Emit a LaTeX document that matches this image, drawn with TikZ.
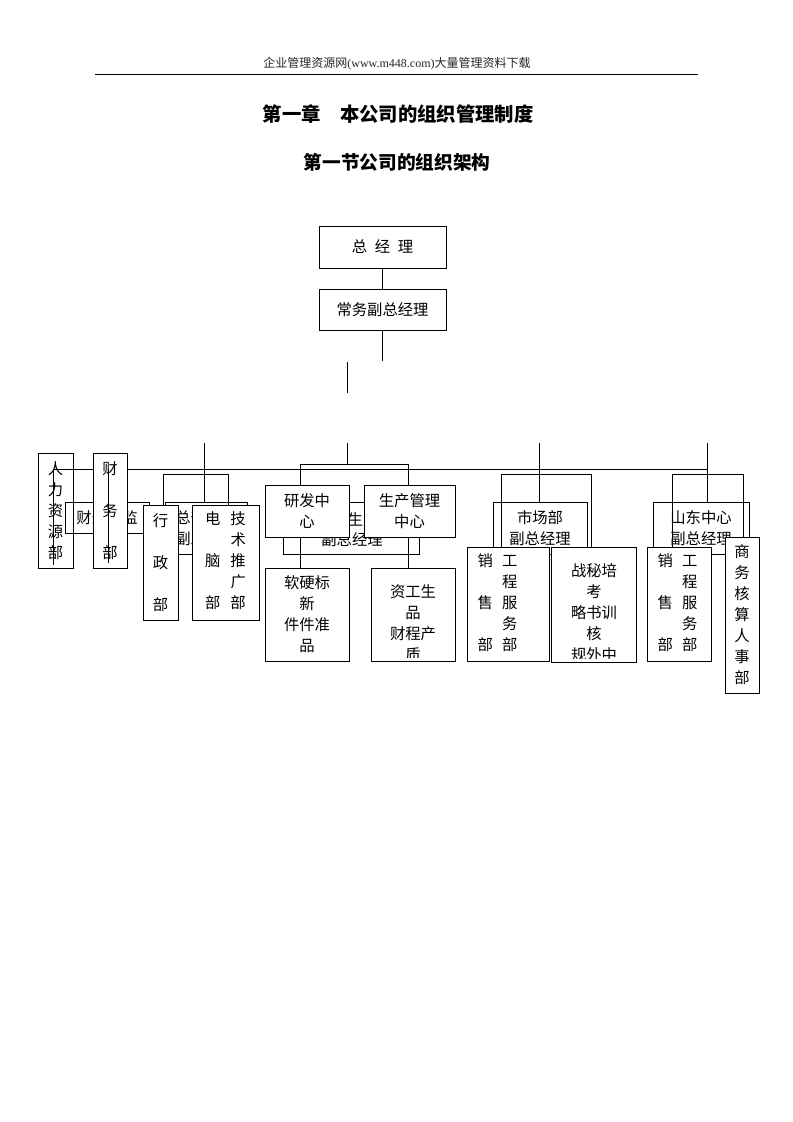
\documentclass[tikz,border=0pt]{standalone}
\usepackage{fontspec}
\setmainfont{Liberation Serif}
\newfontfamily\cjk{Noto Sans CJK SC}
\newcommand\zh{\cjk\fontsize{11.5}{15.75}\selectfont}
\tikzset{
  box/.style={draw, line width=0.7pt, fill=white, inner sep=0pt, font=\zh, align=center},
  obox/.style={box, fill=none},
  sz/.style n args={2}{minimum width=#1*0.75pt, minimum height=#2*0.75pt},
  ln/.style={line width=0.7pt},
  txt/.style={inner sep=0pt, font=\zh, align=center},
}
\begin{document}
\begin{tikzpicture}[x=0.75pt,y=-0.75pt]
\useasboundingbox (0,0) rectangle (793,1122);

% header
\node[inner sep=0pt, font=\fontsize{9}{11}\selectfont, text=black!85] (hdr) at (397,64)
  {{\cjk 企业管理资源网}(www.m448.com){\cjk 大量管理资料下载}};
\coordinate (r1) at (95,74);
\coordinate (r2) at (698,74);
\draw[line width=0.6pt] (r1) -- (r2);

\node[inner sep=0pt, font=\cjk\bfseries\fontsize{14.5}{16}\selectfont] (t1) at (398,114)
  {第一章\hspace{1em}本公司的组织管理制度};
\node[inner sep=0pt, font=\cjk\bfseries\fontsize{14}{16}\selectfont] (t2) at (397,162)
  {第一节公司的组织架构};

% top
\node[box, sz={127}{42}] (gm) at (382.5,247) {总\hspace{0.5em}经\hspace{0.5em}理};
\node[box, sz={127}{41}] (vgm) at (382.5,309.5) {常务副总经理};
\draw[ln] (gm) -- (vgm);
\coordinate (v1) at (382.5,361);
\draw[ln] (vgm.south) -- (v1);
\coordinate (v2a) at (347,362);
\coordinate (v2b) at (347,393);
\draw[ln] (v2a) -- (v2b);

% ---------- left group ----------
\node[box, sz={84}{31}] (fin) at (107,517.5) {财务总监};
\node[obox, sz={35}{115}] (hr) at (55.5,510.5) {人\\力\\资\\源\\部};
\coordinate (hl1) at (53,469);
\coordinate (hl2) at (707,469);
\coordinate (hrb) at (53,565);
\draw[ln] (hl1) -- (hrb);
\draw[ln] (hl1) -- (hl2);
\node[box, sz={34}{115}] (cw) at (110,510.5) {财\\[15.75pt]务\\[15.75pt]部};
\coordinate (cwa) at (108,469);
\coordinate (cwb) at (108,563);
\draw[ln] (cwa) -- (cwb);

\node[box, sz={82}{52}] (zf) at (206,528) {总部中心\\副总经理};
\coordinate (lt) at (204,443);
\draw[ln] (lt) -- (zf.north -| lt);
\coordinate (lb1) at (163,474);
\coordinate (lb2) at (228,474);
\node[box, sz={35}{115}] (xz) at (160.5,562.5) {行\\[15.75pt]政\\[15.75pt]部};
\node[box, sz={67}{115}] (dn) at (225.5,562.5)
  {\begin{tabular}{@{}c@{\hspace{7.5pt}}c@{}}电&技\\&术\\脑&推\\&广\\部&部\end{tabular}};
\draw[ln] (xz.north -| lb1) -- (lb1) -- (lb2) -- (dn.north -| lb2);

% ---------- centre group ----------
\node[box, sz={136}{52}] (sc) at (351,528) {};
\node[txt] (sct1) at (363,520) {生产};
\node[txt] (sct2) at (352,540) {副总经理};
\coordinate (ct) at (347,443);
\coordinate (cb1) at (300,464);
\coordinate (cb2) at (408,464);
\coordinate (cm) at (347,464);
\draw[ln] (ct) -- (cm);
\node[box, sz={84}{93}] (rj) at (307,614.5) {软硬标\\新\\件件准\\品};
\node[box, sz={84}{93}] (zg) at (413,614.5) {};
\draw[ln] (rj.north -| cb1) -- (cb1) -- (cb2) -- (zg.north -| cb2);
\begin{scope}
  \clip (371,568) rectangle (455,657);
  \node[txt] (zgt) at (413,623) {资工生\\品\\财程产\\质};
\end{scope}
\node[box, sz={84}{52}] (yf) at (307,511) {研发中\\心};
\node[box, sz={91}{52}] (sg) at (409.5,511) {生产管理\\中心};

% ---------- market group ----------
\node[box, sz={94}{52}] (sm) at (540,528) {市场部\\副总经理};
\coordinate (mt) at (539,443);
\draw[ln] (mt) -- (sm.north -| mt);
\coordinate (mb1) at (501,474);
\coordinate (mb2) at (591,474);
\node[box, sz={82}{114}] (xs) at (508,604) {};
\node[box, sz={85}{115}] (zl) at (593.5,604.5) {};
\draw[ln] (xs.north -| mb1) -- (mb1) -- (mb2) -- (zl.north -| mb2);
\node[box, sz={82}{114}] (xs) at (508,604) {};
\node[txt] (xst) at (497.5,604)
  {\begin{tabular}{@{}c@{\hspace{7pt}}c@{}}销&工\\&程\\售&服\\&务\\部&部\end{tabular}};
\node[box, sz={85}{115}] (zl) at (593.5,604.5) {};
\begin{scope}
  \clip (551,547) rectangle (636,658);
  \node[txt] (zlt) at (594,613) {战秘培\\考\\略书训\\核\\规外中};
\end{scope}

% ---------- Shandong group ----------
\node[box, sz={96}{52}] (sd) at (701,528) {山东中心\\副总经理};
\coordinate (st) at (707,443);
\draw[ln] (st) -- (sd.north -| st);
\coordinate (sb1) at (672,474);
\coordinate (sb2) at (743,474);
\node[box, sz={64}{114}] (xs2) at (679,604) {};
\node[box, sz={34}{156}] (sw) at (742,615) {};
\draw[ln] (xs2.north -| sb1) -- (sb1) -- (sb2) -- (sw.north -| sb2);
\node[box, sz={64}{114}] (xs2) at (679,604) {};
\node[txt] (xs2t) at (677.5,604)
  {\begin{tabular}{@{}c@{\hspace{7pt}}c@{}}销&工\\&程\\售&服\\&务\\部&部\end{tabular}};
\node[box, sz={34}{156}] (sw) at (742,615) {商\\务\\核\\算\\人\\事\\部};
\end{tikzpicture}
\end{document}
